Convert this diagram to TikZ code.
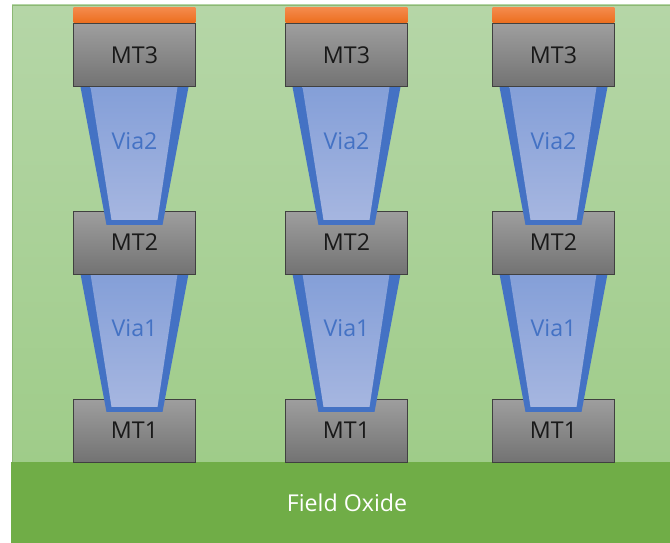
\documentclass[tikz,border=0pt]{standalone}
\usepackage{fontspec}
\setmainfont{Open Sans}
\usetikzlibrary{positioning}
\definecolor{viablue}{HTML}{4472C4}
\definecolor{oxide}{HTML}{70AD47}
\definecolor{captop}{HTML}{F48A4C}
\definecolor{capbot}{HTML}{EC6E1E}
\definecolor{viatop}{HTML}{849FD8}
\definecolor{viabot}{HTML}{A6B6E0}
\definecolor{fieldtop}{HTML}{B5D6A7}
\definecolor{fieldbot}{HTML}{9FCC89}
\definecolor{fieldline}{HTML}{8CB874}
\tikzset{font=\fontsize{13.2}{15}\selectfont}
\tikzstyle{metal}=[draw=black!75,line width=0.5pt,top color=black!38,bottom color=black!55,minimum width=2.44cm,minimum height=1.26cm,inner sep=0pt,text=black!90]
\tikzstyle{topcap}=[top color=captop,bottom color=capbot,minimum width=2.44cm,minimum height=0.3cm,inner sep=0pt]
\tikzstyle{vialabel}=[text=viablue]
\tikzstyle{viafill}=[top color=viatop,bottom color=viabot]
\begin{document}
\begin{tikzpicture}[x=0.02cm,y=-0.02cm]
\useasboundingbox (0,0) rectangle (670,543);
\path[top color=fieldtop,bottom color=fieldbot,draw=fieldline,line width=0.4pt] (12,5) rectangle (672,462);
\node[fill=oxide,minimum width=13.18cm,minimum height=1.62cm,inner sep=0pt,text=white] (oxide) at (340.5,502.5) {};
\node[text=white] (oxidetext) at (347,503) {Field Oxide};
\foreach \c/\n in {134.5/a,346.5/b,553.5/c}{
\node[metal] (MT1\n) at (\c,430.5) {MT1};
% via 1
\fill[viablue] (\c-54,274) -- (\c+54,274) -- (\c+28,412) -- (\c-28,412) -- cycle;
\path[viafill] (\c-44,274) -- (\c+43,274) -- (\c+23,407) -- (\c-23,407) -- cycle;
\node[metal] (MT2\n) at (\c,242.5) {MT2};
\node[vialabel] (Via1\n) at (\c,328) {Via1};
% via 2
\fill[viablue] (\c-54,87) -- (\c+54,87) -- (\c+28,225) -- (\c-28,225) -- cycle;
\path[viafill] (\c-44,87) -- (\c+43,87) -- (\c+23,220) -- (\c-23,220) -- cycle;
\node[metal] (MT3\n) at (\c,55) {MT3};
\node[vialabel] (Via2\n) at (\c,141) {Via2};
\node[topcap,above=0pt of MT3\n] (top\n) {};
}
\end{tikzpicture}
\end{document}
